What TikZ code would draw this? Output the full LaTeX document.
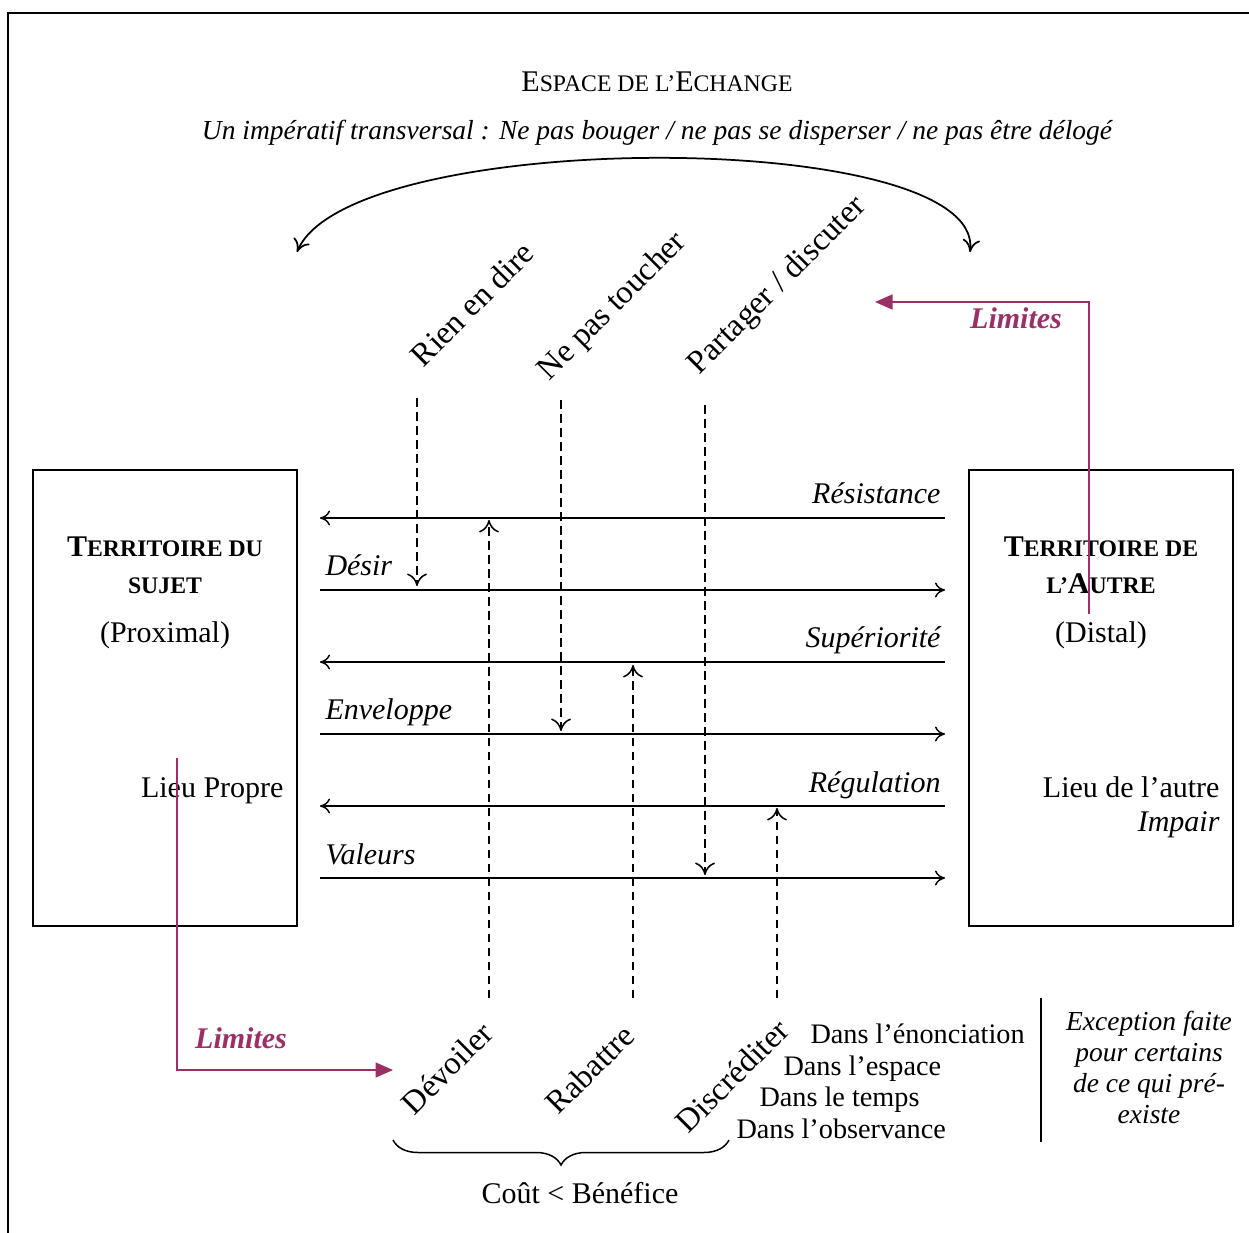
\documentclass[12pt,tikz,border=0pt]{standalone}
\usepackage{fontspec}
\setmainfont{Liberation Serif}
\usetikzlibrary{arrows.meta,decorations.pathreplacing}
\definecolor{limcol}{RGB}{155,48,102}
\newcommand{\pc}[1]{{\fontsize{9.5}{11}\selectfont #1}}

\begin{document}
\begin{tikzpicture}
[
    x=0.4pt, y=-0.4pt,
    every node/.style={anchor=mid, inner sep=0pt},
    flux/.style={-{To[length=4pt,width=6pt]}, line width=0.6pt},
    pointille/.style={-{To[length=5pt,width=8pt]}, dash pattern=on 3.4pt off 2.2pt, line width=0.6pt},
    limite/.style={-{Triangle[length=7pt,width=6pt]}, draw=limcol, line width=0.7pt},
    territoire/.style={anchor=center, draw, line width=0.8pt, minimum width=105.6pt, minimum height=182.4pt},
    oblique/.style={anchor=center, rotate=45, font=\fontsize{13}{16}\selectfont},
    limtxt/.style={text=limcol, font=\bfseries\itshape},
    dans/.style={anchor=mid west, font=\fontsize{11.3}{13}\selectfont},
]
\useasboundingbox (0,0) rectangle (1249,1233);

% cadre
\coordinate (cadreBG) at (8,1233);
\coordinate (cadreHG) at (8,13);
\coordinate (cadreHD) at (1249,13);
\draw[line width=0.8pt] (cadreBG) -- (cadreHG) -- (cadreHD);

% titre
\node (titre) at (657,85) {E\pc{SPACE DE L’}E\pc{CHANGE}};
\node[font=\fontsize{11}{13}\selectfont\itshape] (imperatif) at (657,133)
    {Un impératif transversal : Ne pas bouger / ne pas se disperser / ne pas être délogé};

% arc
\coordinate (arcG) at (297,252);
\coordinate (arcD) at (970,252);
\draw[{To[length=5pt,width=7pt]}-{To[length=5pt,width=7pt]}, line width=0.7pt]
    (arcG) .. controls (350,127) and (985,127) .. (arcD);

% consignes
\node[oblique] (rien) at (472,304) {Rien en dire};
\node[oblique] (toucher) at (613,307) {Ne pas toucher};
\node[oblique] (partager) at (778,286) {Partager / discuter};

% territoires
\node[territoire] (sujet) at (165,698) {};
\node[territoire] (autre) at (1101,698) {};

\node[font=\bfseries] (sujetA) at (165,550) {T\pc{ERRITOIRE DU}};
\node[font=\bfseries] (sujetB) at (165,587) {\pc{SUJET}};
\node (proximal) at (165,636) {(Proximal)};
\node[anchor=mid east] (propre) at (284,791) {Lieu Propre};

\node[font=\bfseries] (autreA) at (1101,550) {T\pc{ERRITOIRE DE}};
\node[font=\bfseries] (autreB) at (1101,587) {\pc{L’}A\pc{UTRE}};
\node (distal) at (1101,636) {(Distal)};
\node[anchor=mid east] (lieuautre) at (1220,791) {Lieu de l’autre};
\node[anchor=mid east, font=\itshape] (impair) at (1220,825) {Impair};

% flux horizontaux
\coordinate (g1) at (320,518); \coordinate (d1) at (945,518);
\coordinate (g2) at (320,590); \coordinate (d2) at (945,590);
\coordinate (g3) at (320,662); \coordinate (d3) at (945,662);
\coordinate (g4) at (320,734); \coordinate (d4) at (945,734);
\coordinate (g5) at (320,806); \coordinate (d5) at (945,806);
\coordinate (g6) at (320,878); \coordinate (d6) at (945,878);
\draw[flux] (d1) -- (g1);
\draw[flux] (g2) -- (d2);
\draw[flux] (d3) -- (g3);
\draw[flux] (g4) -- (d4);
\draw[flux] (d5) -- (g5);
\draw[flux] (g6) -- (d6);

\node[anchor=mid east, font=\itshape] (resistance) at (941,497) {Résistance};
\node[anchor=mid west, font=\itshape] (desir) at (325,569) {Désir};
\node[anchor=mid east, font=\itshape] (superiorite) at (941,641) {Supériorité};
\node[anchor=mid west, font=\itshape] (enveloppe) at (325,713) {Enveloppe};
\node[anchor=mid east, font=\itshape] (regulation) at (941,786) {Régulation};
\node[anchor=mid west, font=\itshape] (valeurs) at (325,858) {Valeurs};

% pointilles
\coordinate (rienH) at (417,398);    \coordinate (rienB) at (417,586);
\coordinate (toucherH) at (561,400); \coordinate (toucherB) at (561,731);
\coordinate (partagerH) at (705,405); \coordinate (partagerB) at (705,875);
\draw[pointille] (rienH) -- (rienB);
\draw[pointille] (toucherH) -- (toucherB);
\draw[pointille] (partagerH) -- (partagerB);

\coordinate (devoilerB) at (489,998);  \coordinate (devoilerH) at (489,520);
\coordinate (rabattreB) at (633,998);  \coordinate (rabattreH) at (633,665);
\coordinate (discrediterB) at (777,998); \coordinate (discrediterH) at (777,808);
\draw[pointille] (devoilerB) -- (devoilerH);
\draw[pointille] (rabattreB) -- (rabattreH);
\draw[pointille] (discrediterB) -- (discrediterH);

% strategies
\node[oblique] (devoiler) at (447,1068) {Dévoiler};
\node[oblique] (rabattre) at (590,1069) {Rabattre};
\node[oblique] (discrediter) at (732,1076) {Discréditer};

\node[dans] (enonciation) at (810,1037) {Dans l’énonciation};
\node[dans] (espace) at (783,1069) {Dans l’espace};
\node[dans] (temps) at (759,1100) {Dans le temps};
\node[dans] (observance) at (736,1132) {Dans l’observance};

\coordinate (sepH) at (1041,998);
\coordinate (sepB) at (1041,1142);
\draw[line width=0.8pt] (sepH) -- (sepB);
\node[anchor=center, align=center, font=\fontsize{11}{12.4}\selectfont\itshape] (exception) at (1149,1067)
    {Exception faite\\pour certains\\de ce qui pré-\\existe};

% accolade
\coordinate (accG) at (393,1140);
\coordinate (accD) at (729,1140);
\draw[decorate, decoration={brace, mirror, amplitude=10pt}, line width=0.6pt] (accG) -- (accD);
\node (cout) at (580,1197) {Coût < Bénéfice};

% limites
\coordinate (limDbas) at (1089,614);
\coordinate (limDcoin) at (1089,302);
\coordinate (limDfin) at (875,302);
\draw[limite] (limDbas) -- (limDcoin) -- (limDfin);
\node[limtxt] (limitesD) at (1016,322) {Limites};

\coordinate (limGhaut) at (177,758);
\coordinate (limGcoin) at (177,1070);
\coordinate (limGfin) at (393,1070);
\draw[limite] (limGhaut) -- (limGcoin) -- (limGfin);
\node[limtxt] (limitesG) at (241,1042) {Limites};
\end{tikzpicture}
\end{document}
